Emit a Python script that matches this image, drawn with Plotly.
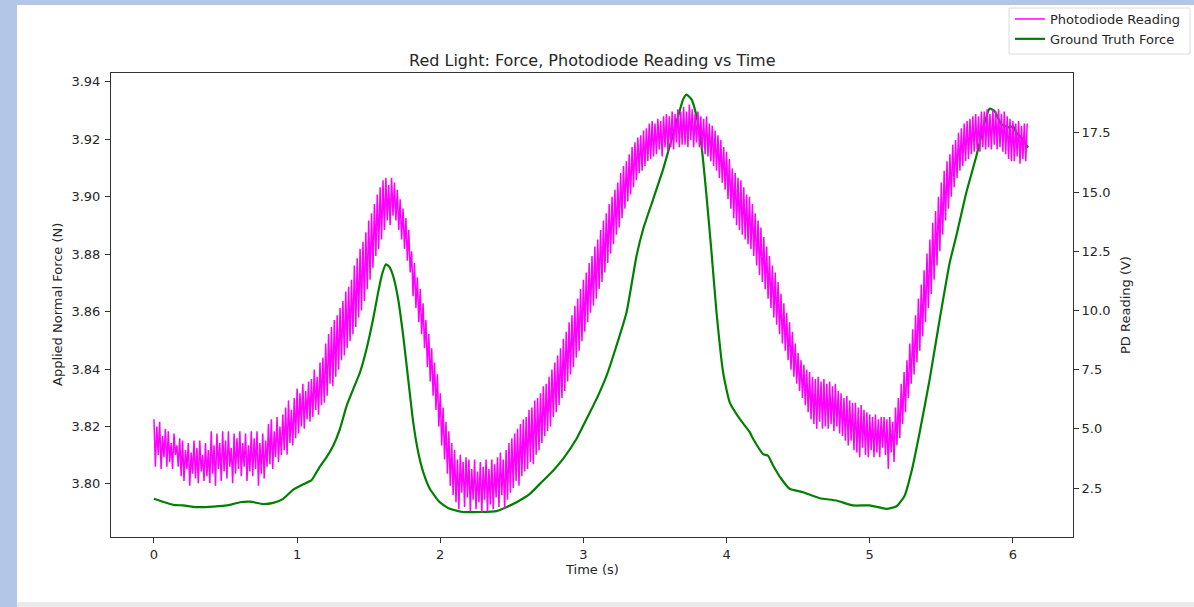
import plotly.graph_objects as go

# ---------------- DATA ----------------
# Ground truth force (N)
gt_time = [0.000, 0.135, 0.205, 0.298, 0.414, 0.531, 0.601, 0.670, 0.763, 0.833, 0.903, 0.973,
           1.043, 1.101, 1.159, 1.206, 1.252, 1.299, 1.346, 1.392, 1.439, 1.485, 1.531, 1.566,
           1.597, 1.620, 1.643, 1.671, 1.706, 1.741, 1.776, 1.811, 1.846, 1.881, 1.927, 1.997,
           2.067, 2.160, 2.277, 2.393, 2.463, 2.533, 2.626, 2.696, 2.788, 2.858, 2.952, 3.022,
           3.092, 3.162, 3.231, 3.301, 3.371, 3.417, 3.487, 3.557, 3.603, 3.650, 3.696, 3.720,
           3.755, 3.790, 3.825, 3.860, 3.895, 3.930, 3.976, 4.022, 4.092, 4.162, 4.185, 4.255,
           4.290, 4.325, 4.383, 4.441, 4.534, 4.651, 4.767, 4.883, 5.000, 5.117, 5.187, 5.244,
           5.291, 5.349, 5.419, 5.489, 5.559, 5.605, 5.675, 5.745, 5.803, 5.838, 5.873, 5.920,
           5.978, 6.001, 6.024, 6.071, 6.106]
gt_force = [3.7948, 3.7927, 3.7925, 3.7919, 3.7921, 3.7927, 3.7936, 3.7938, 3.7930, 3.7934,
            3.7948, 3.7980, 3.7999, 3.8013, 3.8060, 3.8093, 3.8133, 3.8191, 3.8272, 3.8330,
            3.8388, 3.8470, 3.8574, 3.8667, 3.8736, 3.8765, 3.8757, 3.8724, 3.8643, 3.8516,
            3.8365, 3.8215, 3.8110, 3.8041, 3.7983, 3.7936, 3.7913, 3.7902, 3.7902, 3.7905,
            3.7919, 3.7936, 3.7965, 3.8000, 3.8046, 3.8087, 3.8157, 3.8226, 3.8296, 3.8377,
            3.8481, 3.8597, 3.8794, 3.8887, 3.8991, 3.9096, 3.9177, 3.9258, 3.9339, 3.9356,
            3.9339, 3.9281, 3.9177, 3.9003, 3.8806, 3.8597, 3.8388, 3.8284, 3.8226, 3.8180,
            3.8157, 3.8104, 3.8098, 3.8064, 3.8017, 3.7983, 3.7971, 3.7950, 3.7942, 3.7925,
            3.7925, 3.7913, 3.7922, 3.7959, 3.8041, 3.8180, 3.8365, 3.8574, 3.8771, 3.8864,
            3.9015, 3.9142, 3.9258, 3.9307, 3.9298, 3.9252, 3.9241, 3.9246, 3.9223, 3.9200,
            3.9171]

# Photodiode reading (V), one sample every 0.01 s
PD_DT = 0.01
pd_values = [
    5.4, 3.4, 5.1, 3.9, 5.3, 3.3, 4.7, 3.8, 5.0, 3.4,
    4.9, 3.6, 4.4, 3.3, 4.8, 3.9, 4.3, 3.4, 4.6, 3.0,
    4.5, 2.8, 4.1, 3.3, 4.4, 2.6, 4.0, 3.1, 4.5, 2.9,
    4.2, 2.7, 4.5, 3.2, 3.9, 2.8, 4.4, 3.0, 4.1, 2.7,
    4.9, 3.1, 4.3, 2.6, 4.8, 3.3, 4.4, 2.8, 4.9, 3.2,
    4.5, 2.9, 4.9, 3.4, 4.2, 2.7, 4.8, 3.1, 4.6, 3.3,
    4.9, 3.0, 4.4, 3.4, 4.8, 2.8, 4.3, 3.2, 4.9, 3.0,
    4.6, 3.3, 4.9, 2.6, 4.4, 3.1, 4.8, 2.9, 4.5, 3.4,
    5.2, 3.5, 5.4, 3.3, 4.9, 3.8, 5.5, 3.6, 5.1, 3.9,
    5.6, 4.1, 5.9, 3.9, 6.2, 4.4, 5.8, 4.3, 6.3, 4.6,
    6.7, 4.8, 6.5, 5.1, 6.9, 5.0, 6.6, 5.4, 7.0, 5.3,
    7.1, 5.5, 7.5, 5.8, 7.2, 5.6, 7.8, 6.0, 8.0, 6.1,
    8.6, 6.4, 9.0, 6.9, 9.3, 6.8, 9.6, 7.2, 9.8, 7.5,
    10.1, 7.9, 10.4, 8.1, 10.8, 8.4, 11.0, 8.7, 11.3, 9.0,
    11.9, 9.3, 12.2, 9.7, 12.6, 10.0, 12.9, 10.4, 13.3, 10.9,
    13.8, 11.3, 14.1, 11.8, 14.5, 12.3, 14.9, 12.6, 15.2, 13.0,
    15.5, 13.4, 15.6, 13.8, 15.3, 13.6, 15.6, 14.0, 15.4, 13.8,
    15.1, 13.4, 14.7, 13.0, 14.3, 12.6, 13.9, 12.1, 13.4, 11.6,
    12.5, 10.6, 12.0, 10.1, 11.4, 9.5, 10.9, 9.0, 10.3, 8.4,
    9.6, 7.6, 9.0, 7.0, 8.4, 6.4, 7.8, 5.8, 7.3, 5.1,
    6.5, 4.3, 5.9, 3.7, 5.3, 3.1, 4.9, 2.6, 4.4, 2.2,
    4.1, 1.9, 3.7, 1.6, 3.9, 2.3, 3.6, 1.7, 3.8, 2.1,
    3.7, 1.5, 3.3, 2.0, 3.7, 1.6, 3.2, 1.9, 3.6, 1.45,
    3.4, 2.0, 3.7, 1.5, 3.3, 1.8, 3.7, 1.6, 3.5, 2.1,
    3.8, 1.7, 4.0, 2.2, 3.7, 1.6, 4.1, 2.0, 4.4, 2.3,
    4.6, 2.5, 4.8, 2.8, 5.0, 2.6, 5.2, 3.0, 5.4, 3.2,
    5.5, 3.3, 5.8, 3.6, 5.9, 3.5, 6.2, 3.9, 6.3, 4.1,
    6.5, 4.4, 6.8, 4.7, 6.9, 4.9, 7.2, 5.1, 7.5, 5.5,
    7.8, 5.7, 8.1, 6.0, 8.4, 6.3, 8.8, 6.6, 9.1, 7.0,
    9.5, 7.3, 9.8, 7.6, 10.2, 8.0, 10.5, 8.3, 10.9, 8.7,
    11.3, 9.1, 11.6, 9.5, 12.0, 9.9, 12.3, 10.2, 12.7, 10.5,
    13.0, 10.9, 13.4, 11.2, 13.8, 11.6, 14.1, 12.0, 14.5, 12.4,
    14.8, 12.8, 15.1, 13.2, 15.4, 13.5, 15.8, 13.9, 16.1, 14.3,
    16.3, 14.6, 16.6, 14.9, 16.9, 15.2, 17.1, 15.5, 17.3, 15.8,
    17.4, 15.9, 17.6, 16.1, 17.7, 16.3, 17.9, 16.4, 18.0, 16.5,
    17.9, 16.6, 18.1, 16.8, 18.0, 16.5, 18.2, 16.9, 18.3, 16.7,
    18.2, 16.9, 18.4, 16.8, 18.3, 17.1, 18.5, 16.9, 18.4, 17.0,
    18.6, 17.0, 18.4, 16.9, 18.7, 17.2, 18.5, 16.9, 18.3, 17.1,
    18.4, 16.9, 18.2, 16.8, 18.1, 16.6, 18.2, 16.5, 17.9, 16.3,
    17.8, 16.1, 17.6, 15.9, 17.4, 15.6, 17.2, 15.4, 16.9, 15.1,
    16.7, 14.7, 16.4, 14.3, 16.0, 13.9, 15.8, 13.6, 15.6, 13.4,
    15.5, 13.2, 15.2, 13.0, 14.9, 12.8, 14.8, 12.6, 14.5, 12.3,
    14.1, 11.9, 13.8, 11.5, 13.5, 11.2, 13.1, 10.9, 12.7, 10.5,
    12.3, 10.1, 11.9, 9.7, 11.6, 9.4, 11.2, 9.0, 10.7, 8.6,
    10.3, 8.3, 9.9, 7.9, 9.5, 7.5, 9.1, 7.2, 8.6, 6.9,
    8.2, 6.6, 7.9, 6.3, 7.7, 6.0, 7.5, 5.7, 7.4, 5.4,
    7.2, 5.2, 7.1, 5.0, 7.2, 5.3, 7.0, 5.0, 7.1, 5.1,
    6.9, 5.0, 7.0, 5.2, 6.8, 4.9, 6.9, 5.1, 6.6, 4.8,
    6.5, 4.7, 6.3, 4.5, 6.4, 4.3, 6.2, 4.5, 6.1, 4.1,
    6.1, 4.0, 5.9, 3.8, 6.0, 4.2, 5.8, 3.9, 5.7, 3.8,
    5.6, 4.1, 5.5, 3.8, 5.6, 4.0, 5.4, 3.8, 5.5, 4.2,
    5.5, 3.9, 5.4, 3.3, 5.5, 4.0, 5.3, 3.6, 5.9, 4.3,
    6.3, 4.6, 6.9, 5.2, 7.4, 5.7, 7.9, 6.3, 8.6, 6.9,
    9.2, 7.3, 9.8, 7.8, 10.5, 8.3, 11.1, 8.9, 11.7, 9.5,
    12.4, 10.1, 13.0, 10.7, 13.7, 11.3, 14.2, 11.9, 14.8, 12.5,
    15.4, 13.2, 15.9, 13.8, 16.3, 14.3, 16.6, 14.8, 17.0, 15.2,
    17.2, 15.6, 17.5, 15.9, 17.7, 16.1, 17.9, 16.3, 18.0, 16.4,
    18.1, 16.6, 18.2, 16.7, 18.3, 16.8, 18.2, 16.7, 18.4, 16.9,
    18.4, 16.8, 18.5, 16.9, 18.3, 16.8, 18.5, 17.0, 18.4, 16.8,
    18.5, 16.9, 18.3, 16.7, 18.4, 16.6, 18.2, 16.4, 18.1, 16.3,
    18.0, 16.3, 17.9, 16.5, 18.0, 16.2, 17.8, 16.4, 17.9, 16.3,
    17.9,
]
pd_time = [round(i * PD_DT, 3) for i in range(len(pd_values))]

x_ticks = [0, 1, 2, 3, 4, 5, 6]
force_ticks = [3.80, 3.82, 3.84, 3.86, 3.88, 3.90, 3.92, 3.94]
pd_ticks = [2.5, 5.0, 7.5, 10.0, 12.5, 15.0, 17.5]

TITLE = "Red Light: Force, Photodiode Reading vs Time"

# ---------------- FIGURE ----------------
W, H = 1194, 607
L, R, T, B = 111, 1073, 73, 537   # plot area in pixels
pw, ph = R - L, B - T

def px(x):
    return (x - L) / pw

def py(y):
    return (B - y) / ph

FONT = "DejaVu Sans"
TXT = "#262626"
FS = 13

fig = go.Figure()
fig.add_trace(go.Scatter(
    x=pd_time, y=pd_values, mode="lines", name="Photodiode Reading",
    line=dict(color="#ff00ff", width=1.5), yaxis="y2",
))
fig.add_trace(go.Scatter(
    x=gt_time, y=gt_force, mode="lines", name="Ground Truth Force",
    line=dict(color="#008000", width=2.2, shape="spline", smoothing=0.5), yaxis="y",
))

axis_common = dict(
    showgrid=False, zeroline=False, showline=True, linecolor="#333333", linewidth=1,
    ticks="outside", ticklen=5, tickwidth=1, tickcolor="#333333",
    tickfont=dict(family=FONT, size=FS, color=TXT),
)

fig.update_layout(
    width=W, height=H,
    margin=dict(l=L, r=W - R, t=T, b=H - B, pad=0, autoexpand=False),
    paper_bgcolor="#b3c6e7",
    plot_bgcolor="white",
    showlegend=True,
    xaxis=dict(range=[-0.30, 6.42], tickvals=x_ticks, mirror=True, automargin=False,
               **axis_common),
    yaxis=dict(range=[3.7815, 3.9431], tickvals=force_ticks, tickformat=".2f",
               mirror=True, ticklabelstandoff=2, automargin=False, **axis_common),
    yaxis2=dict(range=[0.43, 20.03], tickvals=pd_ticks, tickformat=".1f",
                overlaying="y", side="right", automargin=False, **axis_common),
    legend=dict(
        x=px(1010), y=py(4), xanchor="left", yanchor="top",
        bgcolor="rgba(0,0,0,0)", borderwidth=0,
        font=dict(family=FONT, size=FS, color=TXT),
        tracegroupgap=0, itemwidth=30,
    ),
    shapes=[
        dict(type="rect", xref="paper", yref="paper", x0=px(17), x1=px(W + 5),
             y0=py(602), y1=py(5), fillcolor="white", line=dict(width=0), layer="below"),
        dict(type="rect", xref="paper", yref="paper", x0=px(17), x1=px(W + 5),
             y0=py(H + 5), y1=py(602), fillcolor="#ebebeb", line=dict(width=0), layer="below"),
        dict(type="rect", xref="paper", yref="paper", x0=px(1009), x1=px(1190),
             y0=py(54), y1=py(8), fillcolor="white", line=dict(color="#dcdcdc", width=1),
             layer="below"),
    ],
    annotations=[
        dict(text=TITLE, xref="paper", yref="paper", x=0.5, y=py(60), showarrow=False,
             xanchor="center", yanchor="middle", font=dict(family=FONT, size=16, color=TXT)),
        dict(text="Time (s)", xref="paper", yref="paper", x=0.5, y=py(569), showarrow=False,
             xanchor="center", yanchor="middle", font=dict(family=FONT, size=FS, color=TXT)),
        dict(text="Applied Normal Force (N)", xref="paper", yref="paper", x=px(57), y=0.5,
             textangle=-90, showarrow=False, xanchor="center", yanchor="middle",
             font=dict(family=FONT, size=FS, color=TXT)),
        dict(text="PD Reading (V)", xref="paper", yref="paper", x=px(1125), y=0.5,
             textangle=-90, showarrow=False, xanchor="center", yanchor="middle",
             font=dict(family=FONT, size=FS, color=TXT)),
    ],
)

fig.write_html(
    "out.html",
    config={"displayModeBar": False},
    post_script="document.body.style.margin='0px';document.body.style.overflow='hidden';",
)
